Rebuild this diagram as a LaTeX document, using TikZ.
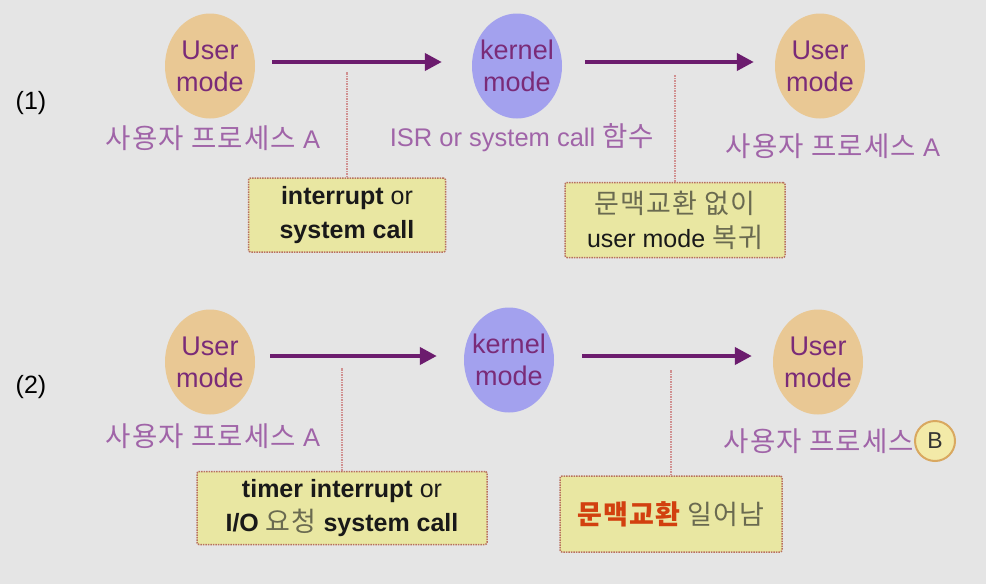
\documentclass[tikz,border=0pt]{standalone}
\usepackage{fontspec}
\setmainfont{Liberation Sans}
\newfontfamily\kr[Scale=1.08,LetterSpace=4]{Noto Sans CJK KR}
\usetikzlibrary{shapes.geometric,arrows.meta}
\definecolor{bgcol}{HTML}{E5E5E5}
\definecolor{usercol}{HTML}{E9C894}
\definecolor{kerncol}{HTML}{A3A1EE}
\definecolor{modetxt}{HTML}{7A2B78}
\definecolor{lblcol}{HTML}{A064A8}
\definecolor{arrcol}{HTML}{6C1C6E}
\definecolor{boxfill}{HTML}{E9E7A2}
\definecolor{boxline}{HTML}{B8705E}
\definecolor{pincol}{HTML}{D09090}
\definecolor{graytxt}{HTML}{6A6A50}
\definecolor{hotcol}{HTML}{D2400F}
\definecolor{circfill}{HTML}{F3EAA8}
\definecolor{circline}{HTML}{D9A860}
\tikzset{
  usermode/.style={ellipse,fill=usercol,minimum width=90pt,minimum height=105pt,inner sep=-20pt,
    text=modetxt,align=center,font=\fontsize{27}{32}\selectfont},
  kernmode/.style={usermode,fill=kerncol},
  proclbl/.style={text=lblcol,font=\fontsize{25.5}{28}\selectfont,inner sep=0pt},
  notebox/.style={draw=boxline,densely dotted,line width=1.5pt,fill=boxfill,rounded corners=2pt,
    align=center,text=black!90,font=\fontsize{25}{34}\selectfont,inner sep=0pt},
  modearrow/.style={draw=arrcol,line width=4pt,-{Triangle[length=17pt,width=17pt]}},
  pinline/.style={draw=pincol,densely dotted,line width=1.5pt},
}
\begin{document}
\begin{tikzpicture}[x=1pt,y=-1pt]
\fill[bgcol] (0,0) rectangle (986,584);
\useasboundingbox (0,0) rectangle (986,584);
\node[font=\fontsize{25}{28}\selectfont] (n1) at (31,103) {(1)};
\node[font=\fontsize{25}{28}\selectfont] (n2) at (31,387) {(2)};
% (1)
\node[usermode] (u1) at (210,66) {User\\mode};
\node[kernmode] (k1) at (517,66) {kernel\\mode};
\node[usermode] (v1) at (820,66) {User\\mode};
\node[proclbl] (p1) at (213,138) {{\kr 사용자 프로세스} A};
\node[proclbl] (q1) at (522,138) {ISR or system call {\kr 함수}};
\node[proclbl] (r1) at (833,146) {{\kr 사용자 프로세스} A};
\draw[modearrow,shorten <=17pt,shorten >=30pt] ([yshift=4pt]u1.east) -- ([yshift=4pt]k1.west);
\draw[modearrow,shorten <=23pt,shorten >=21pt] ([yshift=4pt]k1.east) -- ([yshift=4pt]v1.west);
\node[notebox,minimum width=197pt,minimum height=74pt] (b1) at (347,215)
  {\textbf{interrupt} or\\\textbf{system call}};
\node[notebox,minimum width=220pt,minimum height=75pt] (c1) at (675,220)
  {{\kr\color{graytxt}문맥교환 없이}\\user mode {\kr\color{graytxt}복귀}};
\coordinate (t1) at (349,72);
\coordinate (s1) at (672,75);
\draw[pinline] (b1.north) -- (b1.north |- t1);
\draw[pinline] (c1.north) -- (c1.north |- s1);
% (2)
\node[usermode] (u2) at (210,362) {User\\mode};
\node[kernmode] (k2) at (509,360) {kernel\\mode};
\node[usermode] (v2) at (818,362) {User\\mode};
\node[proclbl] (p2) at (213,436) {{\kr 사용자 프로세스} A};
\node[proclbl,anchor=east] (r2) at (914,441) {\kr 사용자 프로세스};
\node[circle,draw=circline,line width=2pt,fill=circfill,minimum size=40pt,inner sep=0pt,
  text=black!80,font=\fontsize{23}{26}\selectfont] (bb) at (935,441) {B};
\draw[modearrow,shorten <=15pt,shorten >=27pt] ([yshift=6pt]u2.east) -- ([yshift=4pt]k2.west);
\draw[modearrow,shorten <=28pt,shorten >=21pt] ([yshift=4pt]k2.east) -- ([yshift=6pt]v2.west);
\node[notebox,minimum width=290pt,minimum height=73pt] (b2) at (342,508)
  {\textbf{timer interrupt} or\\\textbf{I/O} {\kr\color{graytxt}요청} \textbf{system call}};
\node[notebox,minimum width=222pt,minimum height=76pt] (c2) at (671,514)
  {{\kr\bfseries\color{hotcol}문맥교환} {\kr\color{graytxt}일어남}};
\coordinate (t2) at (347,368);
\coordinate (s2) at (668,370);
\draw[pinline] (b2.north) -- (b2.north |- t2);
\draw[pinline] (c2.north) -- (c2.north |- s2);
\end{tikzpicture}
\end{document}
